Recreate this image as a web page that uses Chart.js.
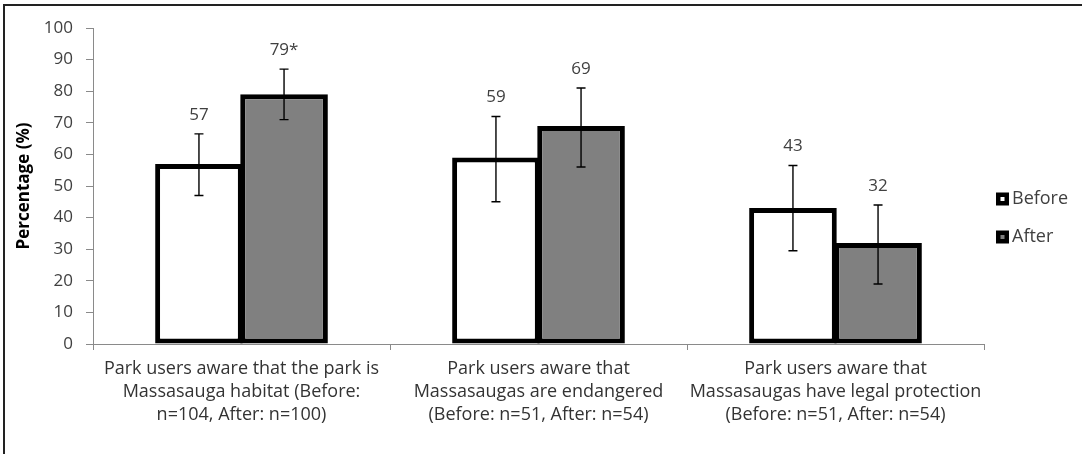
<!DOCTYPE html>
<html>
<head>
<meta charset="utf-8">
<script src="https://cdn.jsdelivr.net/npm/chart.js@4.4.1/dist/chart.umd.min.js"></script>
<style>
  html, body { margin: 0; padding: 0; background: #fff; overflow: hidden; }
  #wrap { position: relative; width: 1082px; height: 454px; }
  #frame { position: absolute; left: 3px; top: 4px; width: 1200px; height: 600px;
           border-left: 2px solid #222; border-top: 2px solid #222; pointer-events: none; }
  #chart { position: absolute; left: 0; top: 0; }
</style>
</head>
<body>
<div id="wrap">
  <canvas id="chart" width="1082" height="454"></canvas>
  <div id="frame"></div>
</div>
<script>
// Catégories (libellés sur plusieurs lignes)
const categories = [
  ["Park users aware that the park is", "Massasauga habitat (Before:", "n=104, After: n=100)"],
  ["Park users aware that", "Massasaugas are endangered", "(Before: n=51, After: n=54)"],
  ["Park users aware that", "Massasaugas have legal protection", "(Before: n=51, After: n=54)"],
];

// Valeurs des séries
const beforeValues = [57, 59, 43];
const afterValues = [79, 69, 32];

// Barres d'erreur (bas / haut)
const beforeLow = [47, 45, 29.5];
const beforeHigh = [66.5, 72, 56.5];
const afterLow = [71, 56, 19];
const afterHigh = [87, 81, 44];

// Étiquettes au-dessus des barres
const beforeLabels = ["57", "59", "43"];
const afterLabels = ["79*", "69", "32"];

// Graduations de l'axe Y
const yTicks = [0, 10, 20, 30, 40, 50, 60, 70, 80, 90, 100];

const fontFamily = "'Open Sans', Lato, sans-serif";
const textColor = "#404040";
const axisColor = "#8a8a8a";

const errorBars = {
  low: [beforeLow, afterLow],
  high: [beforeHigh, afterHigh],
  labels: [beforeLabels, afterLabels],
};

// Dessine les barres d'erreur et les valeurs
const errorBarPlugin = {
  id: "errorBars",
  afterDatasetsDraw(chart) {
    const { ctx, scales: { y } } = chart;
    ctx.save();
    chart.data.datasets.forEach((ds, di) => {
      const meta = chart.getDatasetMeta(di);
      meta.data.forEach((bar, i) => {
        const yHigh = y.getPixelForValue(errorBars.high[di][i]);
        const yLow = y.getPixelForValue(errorBars.low[di][i]);
        const cap = 4.5;
        ctx.strokeStyle = "#000";
        ctx.lineWidth = 1.4;
        ctx.beginPath();
        ctx.moveTo(bar.x, yHigh);
        ctx.lineTo(bar.x, yLow);
        ctx.moveTo(bar.x - cap, yHigh);
        ctx.lineTo(bar.x + cap, yHigh);
        ctx.moveTo(bar.x - cap, yLow);
        ctx.lineTo(bar.x + cap, yLow);
        ctx.stroke();

        ctx.fillStyle = textColor;
        ctx.font = "17px " + fontFamily;
        ctx.textAlign = "center";
        ctx.textBaseline = "middle";
        ctx.fillText(errorBars.labels[di][i], bar.x, yHigh - 19);
      });
    });
    ctx.restore();
  },
};

// Légende dessinée à droite
const legendPlugin = {
  id: "sideLegend",
  afterDraw(chart) {
    const { ctx, chartArea } = chart;
    ctx.save();
    chart.data.datasets.forEach((ds, di) => {
      const x = chartArea.right + 12;
      const yc = 199 + di * 38;
      ctx.fillStyle = "#000";
      ctx.fillRect(x, yc - 6.5, 13, 13);
      ctx.fillStyle = ds.backgroundColor;
      ctx.fillRect(x + 4.5, yc - 2, 4, 4);
      ctx.fillStyle = textColor;
      ctx.font = "18px " + fontFamily;
      ctx.textAlign = "left";
      ctx.textBaseline = "middle";
      ctx.fillText(ds.label, x + 16, yc);
    });
    ctx.restore();
  },
};

new Chart(document.getElementById("chart"), {
  type: "bar",
  data: {
    labels: categories,
    datasets: [
      {
        label: "Before",
        data: beforeValues,
        backgroundColor: "#ffffff",
        borderColor: "#000000",
        borderWidth: 5,
        borderSkipped: false,
        categoryPercentage: 0.573,
        barPercentage: 1.03,
      },
      {
        label: "After",
        data: afterValues,
        backgroundColor: "#808080",
        borderColor: "#000000",
        borderWidth: 5,
        borderSkipped: false,
        categoryPercentage: 0.573,
        barPercentage: 1.03,
      },
    ],
  },
  options: {
    responsive: false,
    animation: false,
    layout: { padding: { left: 0, right: 98, top: 28, bottom: 0 } },
    plugins: {
      legend: { display: false },
      tooltip: { enabled: false },
    },
    scales: {
      x: {
        grid: { display: true, drawOnChartArea: false, offset: true, tickLength: 6, color: axisColor },
        border: { color: axisColor, width: 1 },
        ticks: { color: "#333", padding: 7, font: { family: fontFamily, size: 18, lineHeight: 1.28 }, maxRotation: 0, autoSkip: false },
        afterFit(scale) { scale.height = 110; },
      },
      y: {
        min: 0,
        max: 100,
        afterBuildTicks(scale) { scale.ticks = yTicks.map((v) => ({ value: v })); },
        grid: { display: true, drawOnChartArea: false, tickLength: 7, color: axisColor },
        border: { color: axisColor, width: 1 },
        ticks: { color: textColor, padding: 13, font: { family: fontFamily, size: 17 } },
        title: {
          display: true,
          text: "Percentage (%)",
          color: "#000",
          font: { family: fontFamily, size: 17, weight: "bold" },
          padding: { top: 14, bottom: 0 },
        },
        afterFit(scale) { scale.width = 93; },
      },
    },
  },
  plugins: [errorBarPlugin, legendPlugin],
});
</script>
</body>
</html>
